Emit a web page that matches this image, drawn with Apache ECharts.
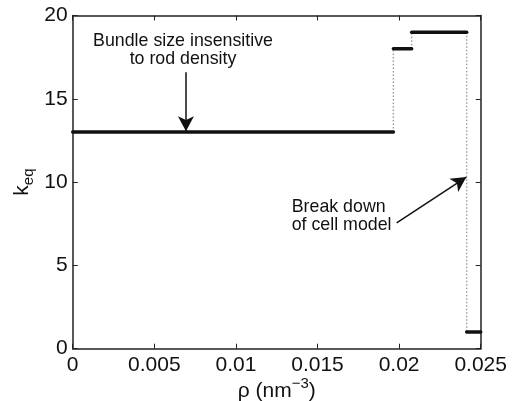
<!DOCTYPE html>
<html>
<head>
<meta charset="utf-8">
<script src="https://cdn.jsdelivr.net/npm/echarts@6/dist/echarts.min.js"></script>
<style>
  html, body { margin: 0; padding: 0; background: #fff; }
  #main { width: 513px; height: 401px; }
</style>
</head>
<body>
<div id="main"></div>
<script>
// step plateaus of k_eq vs rod density
var stepStart = [0, 0.01965, 0.02077, 0.02414];
var stepEnd = [0.01965, 0.02077, 0.02414, 0.025];
var kEq = [13, 18, 19, 1];

var xTicks = [0, 0.005, 0.01, 0.015, 0.02, 0.025];
var yTicks = [0, 5, 10, 15, 20];

// annotations: [x, y] in data units
var note1Text = 'Bundle size insensitive\nto rod density';
var note1At = [0.00676, 17.9];
var arrow1 = [[0.00694, 16.6], [0.00694, 13.05]];
var note2Text = 'Break down\nof cell model';
var note2At = [0.01342, 7.95];
var arrow2 = [[0.01985, 7.55], [0.02412, 10.3]];

var font = 'Liberation Sans, Arial, Helvetica, sans-serif';
var myChart = echarts.init(document.getElementById('main'));

var series = [];

// dotted vertical jumps between plateaus
for (let i = 0; i < kEq.length - 1; i++) {
    series.push({
        type: 'line',
        xAxisIndex: 0,
        yAxisIndex: 0,
        data: [[stepEnd[i], kEq[i]], [stepEnd[i], kEq[i + 1]]],
        symbol: 'none',
        silent: true,
        lineStyle: { color: '#9a9a9a', width: 1.4, type: [1.5, 2] },
        z: 2
    });
}

// thick plateaus
for (let i = 0; i < kEq.length; i++) {
    series.push({
        type: 'line',
        xAxisIndex: 0,
        yAxisIndex: 0,
        data: [[stepStart[i], kEq[i]], [stepEnd[i], kEq[i]]],
        symbol: 'none',
        silent: true,
        lineStyle: { color: '#111', width: 3.5, cap: 'round' },
        z: 3
    });
}

// annotation series (arrows + text)
series.push({
    type: 'line',
    data: [],
    silent: true,
    markLine: {
        silent: true,
        symbol: ['none', 'arrow'],
        symbolSize: [12, 15],
        label: { show: false },
        lineStyle: { color: '#111', width: 1.5, type: 'solid' },
        data: [
            [{ coord: arrow1[0] }, { coord: arrow1[1] }],
            [{ coord: arrow2[0] }, { coord: arrow2[1] }]
        ]
    },
    markPoint: {
        silent: true,
        symbol: 'circle',
        symbolSize: 0,
        data: [
            { coord: note1At, label: { formatter: note1Text, align: 'center' } },
            { coord: note2At, label: { formatter: note2Text, align: 'left' } }
        ],
        label: {
            show: true,
            position: 'inside',
            color: '#111',
            fontFamily: font,
            fontSize: 17.8,
            lineHeight: 18
        }
    }
});

var axisBase = {
    type: 'value',
    splitLine: { show: false },
    axisLine: { show: true, onZero: false, lineStyle: { color: '#222', width: 1.5 } },
    axisTick: { show: true, inside: true, length: 5, lineStyle: { color: '#222', width: 1 } }
};

var option = {
    backgroundColor: '#fff',
    animation: false,
    grid: { left: 72.7, right: 32.3, top: 15.5, bottom: 52.3, outerBoundsMode: 'none', containLabel: false },
    xAxis: [
        Object.assign({}, axisBase, {
            position: 'bottom',
            min: xTicks[0],
            max: xTicks[xTicks.length - 1],
            interval: xTicks[1] - xTicks[0],
            axisLabel: { color: '#111', fontFamily: font, fontSize: 21, margin: 6 },
            name: 'ρ (nm{sup|−3})',
            nameLocation: 'middle',
            nameGap: 28,
            nameMoveOverlap: false,
            nameTextStyle: {
                color: '#111', fontFamily: font, fontSize: 21,
                rich: { sup: { fontSize: 15, fontFamily: font, color: '#111', padding: [0, 0, 15, 0] } }
            }
        }),
        Object.assign({}, axisBase, {
            position: 'top',
            min: xTicks[0],
            max: xTicks[xTicks.length - 1],
            interval: xTicks[1] - xTicks[0],
            axisLabel: { show: false }
        })
    ],
    yAxis: [
        Object.assign({}, axisBase, {
            position: 'left',
            min: yTicks[0],
            max: yTicks[yTicks.length - 1],
            interval: yTicks[1] - yTicks[0],
            axisLabel: { color: '#111', fontFamily: font, fontSize: 21, margin: 5 },
            name: 'k{sub|eq}',
            nameLocation: 'middle',
            nameGap: 36,
            nameMoveOverlap: false,
            nameRotate: 90,
            nameTextStyle: {
                color: '#111', fontFamily: font, fontSize: 21,
                rich: { sub: { fontSize: 15, fontFamily: font, color: '#111', padding: [14, 0, 0, 0] } }
            }
        }),
        Object.assign({}, axisBase, {
            position: 'right',
            min: yTicks[0],
            max: yTicks[yTicks.length - 1],
            interval: yTicks[1] - yTicks[0],
            axisLabel: { show: false }
        })
    ],
    series: series
};

myChart.setOption(option);
</script>
</body>
</html>
